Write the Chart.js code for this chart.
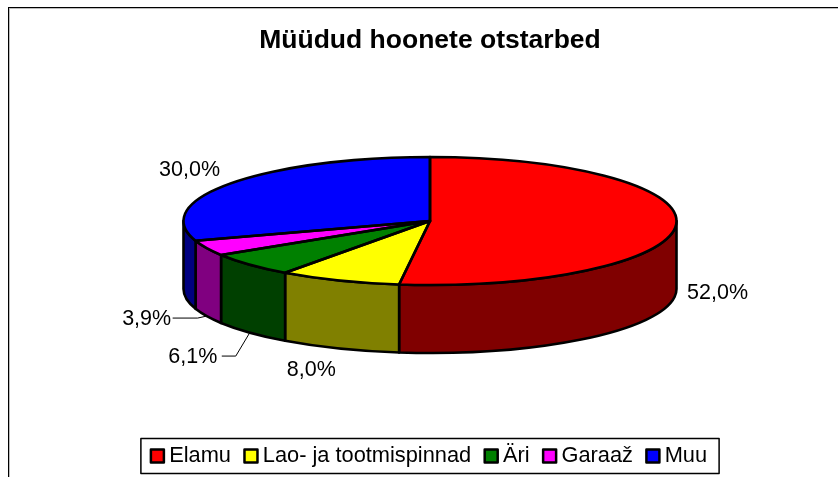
<!DOCTYPE html>
<html><head><meta charset="utf-8">
<style>html,body{margin:0;padding:0;background:#fff;overflow:hidden}#w{width:838px;height:477px}canvas{display:block}</style>
<script src="https://cdn.jsdelivr.net/npm/chart.js@4"></script>
</head><body><div id="w"><canvas id="c" width="838" height="477"></canvas></div>
<script>
const titleText = 'Müüdud hoonete otstarbed';
const categories = ['Elamu', 'Lao- ja tootmispinnad', 'Äri', 'Garaaž', 'Muu'];
const shares = [52.0, 8.0, 6.1, 3.9, 30.0];
const topColors = ['#ff0000', '#ffff00', '#008000', '#ff00ff', '#0000ff'];
const wallColors = ['#800000', '#808000', '#004000', '#800080', '#000080'];
const labelOffsets = [[41.5, 0], [-28, 21.5], [-57, 24.4], [-60, 3], [-41, -13.4]];
const labelOnTopFace = [false, false, false, false, true];
const leaderBends = [null, null, [-14, 23.4], [-9, 2], null];
const leaderStarts = [null, null, -29, -26, null];

const FONT = 'Liberation Sans, Arial, sans-serif';
const LABEL_SIZE = 21.5, LEGEND_SIZE = 21.8, CX = 430, CY = 221, RX = 246.5, RY = 64, DEPTH = 68, EDGE = 2.6, LEGEND_SHIFT = 1.5;

function toPie(ctx, el) {
  const k = el.outerRadius;
  ctx.translate(CX, CY); ctx.scale(RX / k, RY / k); ctx.translate(-el.x, -el.y);
}
function stroke(ctx, w) {
  ctx.strokeStyle = '#000'; ctx.lineWidth = w; ctx.lineJoin = 'round'; ctx.stroke();
}
function edgePoint(el, bottom) {
  const m = (el.startAngle + el.endAngle) / 2;
  return [CX + RX * Math.cos(m), CY + RY * Math.sin(m) + (bottom ? DEPTH : 0)];
}
const pie3d = {
  id: 'pie3d',
  afterLayout(chart) {
    const lg = chart.legend;
    lg.left -= LEGEND_SHIFT; lg.right -= LEGEND_SHIFT;
    lg.legendHitBoxes.forEach(h => { h.left -= LEGEND_SHIFT; });
  },
  beforeDraw(chart) {
    const c = chart.ctx;
    c.save();
    c.fillStyle = '#fff'; c.fillRect(0, 0, chart.width, chart.height);
    c.fillStyle = '#bdbdbd'; c.fillRect(9, 8, chart.width, 1); c.fillRect(9, 8, 1, chart.height);
    c.fillStyle = '#000'; c.fillRect(8, 7, chart.width, 1); c.fillRect(8, 7, 1, chart.height);
    c.restore();
  },
  beforeDatasetsDraw(chart) {
    const c = chart.ctx, els = chart.getDatasetMeta(0).data;
    const d = DEPTH / (RY / els[0].outerRadius);
    els.forEach((el, i) => {
      const a = Math.max(el.startAngle, 0), b = Math.min(el.endAngle, Math.PI);
      if (b <= a) return;
      c.save(); toPie(c, el);
      c.beginPath();
      c.arc(el.x, el.y, el.outerRadius, a, b);
      c.arc(el.x, el.y + d, el.outerRadius, b, a, true);
      c.closePath();
      c.restore();
      c.fillStyle = wallColors[i]; c.fill();
      stroke(c, EDGE);
    });
    c.save(); toPie(c, els[0]);
  },
  afterDatasetsDraw(chart) {
    const c = chart.ctx, els = chart.getDatasetMeta(0).data;
    c.restore();
    els.forEach(el => {
      c.save(); toPie(c, el);
      c.beginPath();
      c.moveTo(el.x, el.y);
      c.arc(el.x, el.y, el.outerRadius, el.startAngle, el.endAngle);
      c.closePath();
      c.restore();
      stroke(c, EDGE);
    });
    c.save();
    c.font = LABEL_SIZE + 'px ' + FONT;
    c.textAlign = 'center'; c.textBaseline = 'middle'; c.fillStyle = '#000';
    els.forEach((el, i) => {
      const [ex, ey] = edgePoint(el, !labelOnTopFace[i]);
      const lx = ex + labelOffsets[i][0], ly = ey + labelOffsets[i][1];
      c.fillText(shares[i].toFixed(1).replace('.', ',') + '%', lx, ly);
      if (leaderBends[i]) {
        c.beginPath();
        c.moveTo(lx - leaderStarts[i], ey + leaderBends[i][1]);
        c.lineTo(ex + leaderBends[i][0], ey + leaderBends[i][1]);
        c.lineTo(ex, ey);
        c.lineWidth = 1; c.strokeStyle = '#000'; c.stroke();
      }
    });
    c.restore();
  },
  afterDraw(chart) {
    const c = chart.ctx, lg = chart.legend, hb = lg.legendHitBoxes;
    const first = hb[0], last = hb[hb.length - 1];
    const top = first.top + first.height / 2 - 17.5;
    c.save();
    c.strokeStyle = '#000'; c.lineWidth = 1.5;
    c.strokeRect(first.left - 9, top, last.left + last.width + 12 - (first.left - 9), 35);
    hb.forEach((h, i) => {
      const s = 13, y = h.top + h.height / 2 - s / 2;
      c.fillStyle = topColors[i]; c.fillRect(h.left + 1, y, s, s);
      c.lineWidth = 2.5; c.strokeRect(h.left + 1, y, s, s);
    });
    c.restore();
  }
};
new Chart(document.getElementById('c'), {
  type: 'pie',
  data: { labels: categories, datasets: [{ data: shares, backgroundColor: topColors, borderWidth: 0 }] },
  options: {
    responsive: false, animation: false,
    layout: { padding: { left: 22 } },
    plugins: {
      tooltip: { enabled: false },
      title: { display: true, text: titleText, color: '#000', font: { family: FONT, size: 26.5, weight: 'bold' }, padding: { top: 25, bottom: 8 } },
      legend: {
        position: 'bottom',
        labels: {
          color: '#000', font: { family: FONT, size: LEGEND_SIZE }, padding: 12.5, boxWidth: 8.4, boxHeight: 8,
          generateLabels: () => categories.map(t => ({ text: t, fillStyle: 'transparent', strokeStyle: 'transparent', lineWidth: 0 }))
        }
      }
    }
  },
  plugins: [pie3d]
});
</script></body></html>
